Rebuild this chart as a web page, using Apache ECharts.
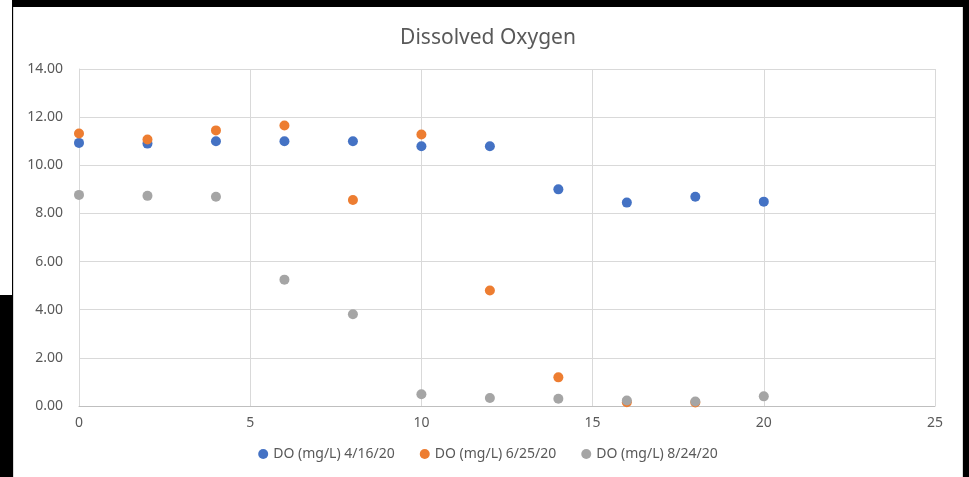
<!DOCTYPE html>
<html>
<head>
    <meta charset="utf-8">
    <title>Dissolved Oxygen</title>
    <script src="https://cdn.jsdelivr.net/npm/echarts@6/dist/echarts.min.js"></script>
    <style>
        body { margin: 0; background: #000; width: 969px; height: 477px; position: relative; overflow: hidden; }
        #leftPanel { position: absolute; left: 0; top: 0; width: 12px; height: 295px; background: #fff; }
        #main { position: absolute; left: 13px; top: 7px; width: 950px; height: 470px; background: #fff; border-left: 1px solid #d9d9d9; border-right: 1px solid #d9d9d9; box-sizing: border-box; }
    </style>
</head>
<body>
    <div id="leftPanel"></div>
    <div id="main"></div>
    <script>
        // sample distance (x values)
        var depths = [0, 2, 4, 6, 8, 10, 12, 14, 16, 18, 20];
        // DO readings (mg/L) per sampling date
        var do0416 = [10.93, 10.90, 11.00, 11.00, 11.00, 10.79, 10.79, 9.00, 8.45, 8.69, 8.49];
        var do0625 = [11.32, 11.07, 11.45, 11.65, 8.56, 11.28, 4.80, 1.19, 0.16, 0.15];
        var do0824 = [8.77, 8.73, 8.69, 5.25, 3.81, 0.49, 0.33, 0.30, 0.23, 0.19, 0.40];
        var seriesNames = ['DO (mg/L) 4/16/20', 'DO (mg/L) 6/25/20', 'DO (mg/L) 8/24/20'];
        var seriesColors = ['#4472C4', '#ED7D31', '#A5A5A5'];

        function pairs(vals) {
            return vals.map(function (v, i) { return [depths[i], v]; });
        }

        var chart = echarts.init(document.getElementById('main'));
        var font = 'Noto Sans, sans-serif';

        chart.setOption({
            animation: false,
            title: {
                text: 'Dissolved Oxygen',
                left: 'center',
                top: 16,
                textStyle: { fontFamily: font, fontSize: 21, fontWeight: 'normal', color: '#595959' }
            },
            legend: {
                bottom: 11,
                left: 'center',
                icon: 'circle',
                itemWidth: 10,
                itemHeight: 10,
                itemGap: 25,
                textStyle: { fontFamily: font, fontSize: 14, color: '#595959' },
                data: seriesNames
            },
            grid: { left: 65, right: 27, top: 62, bottom: 71 },
            xAxis: {
                type: 'value',
                min: 0,
                max: 25,
                interval: 5,
                axisLine: { show: true, lineStyle: { color: '#BFBFBF' } },
                axisTick: { show: false },
                axisLabel: { margin: 10, fontFamily: font, fontSize: 14, color: '#595959' },
                splitLine: { show: true, lineStyle: { color: '#D9D9D9' } }
            },
            yAxis: {
                type: 'value',
                min: 0,
                max: 14,
                interval: 2,
                axisLine: { show: true, lineStyle: { color: '#D9D9D9' } },
                axisTick: { show: false },
                axisLabel: {
                    margin: 16,
                    fontFamily: font,
                    fontSize: 14,
                    color: '#595959',
                    formatter: function (v) { return v.toFixed(2); }
                },
                splitLine: { show: true, lineStyle: { color: '#D9D9D9' } }
            },
            series: [
                { name: seriesNames[0], type: 'scatter', symbolSize: 10, itemStyle: { color: seriesColors[0], opacity: 1 }, data: pairs(do0416) },
                { name: seriesNames[1], type: 'scatter', symbolSize: 10, itemStyle: { color: seriesColors[1], opacity: 1 }, data: pairs(do0625) },
                { name: seriesNames[2], type: 'scatter', symbolSize: 10, itemStyle: { color: seriesColors[2], opacity: 1 }, data: pairs(do0824) }
            ]
        });
    </script>
</body>
</html>
